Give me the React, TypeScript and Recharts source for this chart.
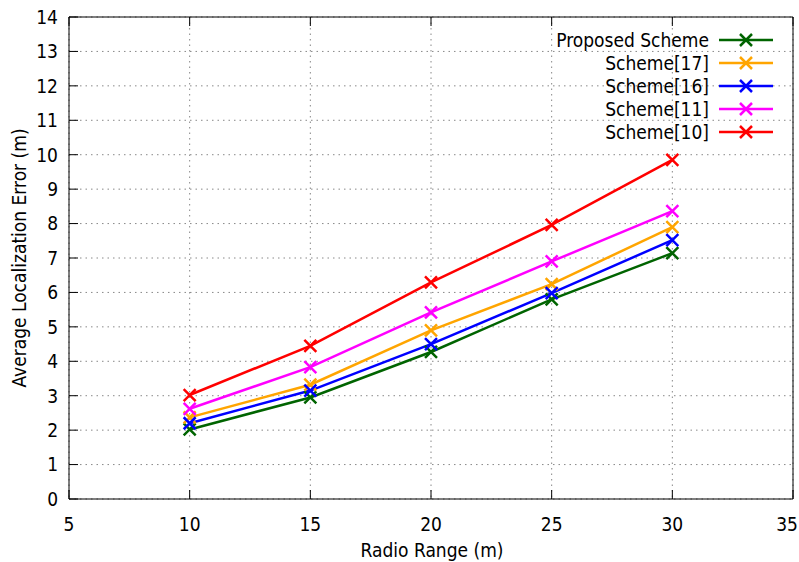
import React from "react";
import { LineChart, Line, XAxis, YAxis, CartesianGrid } from "recharts";

const radioRange = [10, 15, 20, 25, 30];
const proposedScheme = [2.02, 2.95, 4.27, 5.8, 7.14];
const scheme17 = [2.37, 3.32, 4.9, 6.24, 7.9];
const scheme16 = [2.2, 3.15, 4.5, 5.98, 7.52];
const scheme11 = [2.62, 3.83, 5.42, 6.9, 8.36];
const scheme10 = [3.02, 4.45, 6.29, 7.96, 9.85];

const xTicks = [5, 10, 15, 20, 25, 30, 35];
const yTicks = [0, 1, 2, 3, 4, 5, 6, 7, 8, 9, 10, 11, 12, 13, 14];

const series = [
  { key: "proposed", name: "Proposed Scheme", color: "#006400", values: proposedScheme },
  { key: "s17", name: "Scheme[17]", color: "#FFA500", values: scheme17 },
  { key: "s16", name: "Scheme[16]", color: "#0000FF", values: scheme16 },
  { key: "s11", name: "Scheme[11]", color: "#FF00FF", values: scheme11 },
  { key: "s10", name: "Scheme[10]", color: "#FF0000", values: scheme10 },
];

const data = radioRange.map((x, i) => {
  const row: any = { x };
  series.forEach((s) => (row[s.key] = s.values[i]));
  return row;
});

const FONT = "'DejaVu Sans Condensed', 'DejaVu Sans', sans-serif";
const FS = 19;
const TICK = 9;

const makeDot = (color: string) => (props: any) => {
  const { cx, cy, index } = props;
  if (cx == null || cy == null) return <g key={index} />;
  const h = 6;
  return (
    <path
      key={index}
      d={`M${cx - h},${cy - h}L${cx + h},${cy + h}M${cx - h},${cy + h}L${cx + h},${cy - h}`}
      stroke={color}
      strokeWidth={2.5}
      fill="none"
    />
  );
};

const BottomTick = (props: any) => {
  const { x, y, payload } = props;
  const tx = Math.min(x, 787);
  return (
    <g>
      <line x1={x} y1={y} x2={x} y2={y - TICK} stroke="#000" strokeWidth={1} />
      <text x={tx} y={y + 32} textAnchor="middle" fontFamily={FONT} fontSize={FS} fill="#000">
        {payload.value}
      </text>
    </g>
  );
};

const TopTick = (props: any) => {
  const { x, y } = props;
  return <line x1={x} y1={y} x2={x} y2={y + TICK} stroke="#000" strokeWidth={1} />;
};

const LeftTick = (props: any) => {
  const { x, y, payload } = props;
  return (
    <g>
      <line x1={x} y1={y} x2={x + TICK} y2={y} stroke="#000" strokeWidth={1} />
      <text x={x - 11} y={y} dy="0.36em" textAnchor="end" fontFamily={FONT} fontSize={FS} fill="#000">
        {payload.value}
      </text>
    </g>
  );
};

const RightTick = (props: any) => {
  const { x, y } = props;
  return <line x1={x} y1={y} x2={x - TICK} y2={y} stroke="#000" strokeWidth={1} />;
};

export default function App() {
  return (
    <div style={{ position: "absolute", left: 0, top: 0, width: 799, height: 562, background: "#fff" }}>
      <LineChart
        width={799}
        height={562}
        data={data}
        margin={{ top: 16, right: 5, bottom: 23, left: 29 }}
      >
        <CartesianGrid stroke="#888" strokeDasharray="1.5 4" horizontal vertical />
        <XAxis
          dataKey="x"
          type="number"
          domain={[5, 35]}
          ticks={xTicks}
          height={40}
          tickSize={0}
          tickMargin={0}
          tickLine={false}
          axisLine={{ stroke: "#000", strokeWidth: 1 }}
          tick={<BottomTick />}
          interval={0}
        />
        <XAxis
          xAxisId="top"
          orientation="top"
          dataKey="x"
          type="number"
          domain={[5, 35]}
          ticks={xTicks}
          height={1}
          tickSize={0}
          tickMargin={0}
          tickLine={false}
          axisLine={{ stroke: "#000", strokeWidth: 1 }}
          tick={<TopTick />}
          interval={0}
        />
        <YAxis
          type="number"
          domain={[0, 14]}
          ticks={yTicks}
          width={40}
          tickSize={0}
          tickMargin={0}
          tickLine={false}
          axisLine={{ stroke: "#000", strokeWidth: 1 }}
          tick={<LeftTick />}
          interval={0}
        />
        <YAxis
          yAxisId="right"
          orientation="right"
          type="number"
          domain={[0, 14]}
          ticks={yTicks}
          width={1}
          tickSize={0}
          tickMargin={0}
          tickLine={false}
          axisLine={{ stroke: "#000", strokeWidth: 1 }}
          tick={<RightTick />}
          interval={0}
        />
        {series.map((s) => (
          <Line
            key={s.key}
            dataKey={s.key}
            name={s.name}
            stroke={s.color}
            strokeWidth={2.5}
            dot={makeDot(s.color)}
            activeDot={false}
            isAnimationActive={false}
          />
        ))}
      </LineChart>
      <div
        style={{
          position: "absolute",
          left: 0,
          top: 0,
          width: 799,
          height: 562,
          pointerEvents: "none",
        }}
      >
        <svg width={799} height={562}>
          <text x={432} y={557} textAnchor="middle" fontFamily={FONT} fontSize={FS} fill="#000">
            Radio Range (m)
          </text>
          <text
            x={0}
            y={0}
            transform="translate(26,258) rotate(-90)"
            textAnchor="middle"
            fontFamily={FONT}
            fontSize={FS}
            fill="#000"
          >
            Average Localization Error (m)
          </text>
          {series.map((s, i) => {
            const cy = 40 + 23 * i;
            const mx = 746;
            return (
              <g key={s.key}>
                <text x={709} y={cy} dy="0.36em" textAnchor="end" fontFamily={FONT} fontSize={FS} fill="#000">
                  {s.name}
                </text>
                <line x1={719} y1={cy} x2={773} y2={cy} stroke={s.color} strokeWidth={2.5} />
                <path
                  d={`M${mx - 6},${cy - 6}L${mx + 6},${cy + 6}M${mx - 6},${cy + 6}L${mx + 6},${cy - 6}`}
                  stroke={s.color}
                  strokeWidth={2.5}
                />
              </g>
            );
          })}
        </svg>
      </div>
    </div>
  );
}
